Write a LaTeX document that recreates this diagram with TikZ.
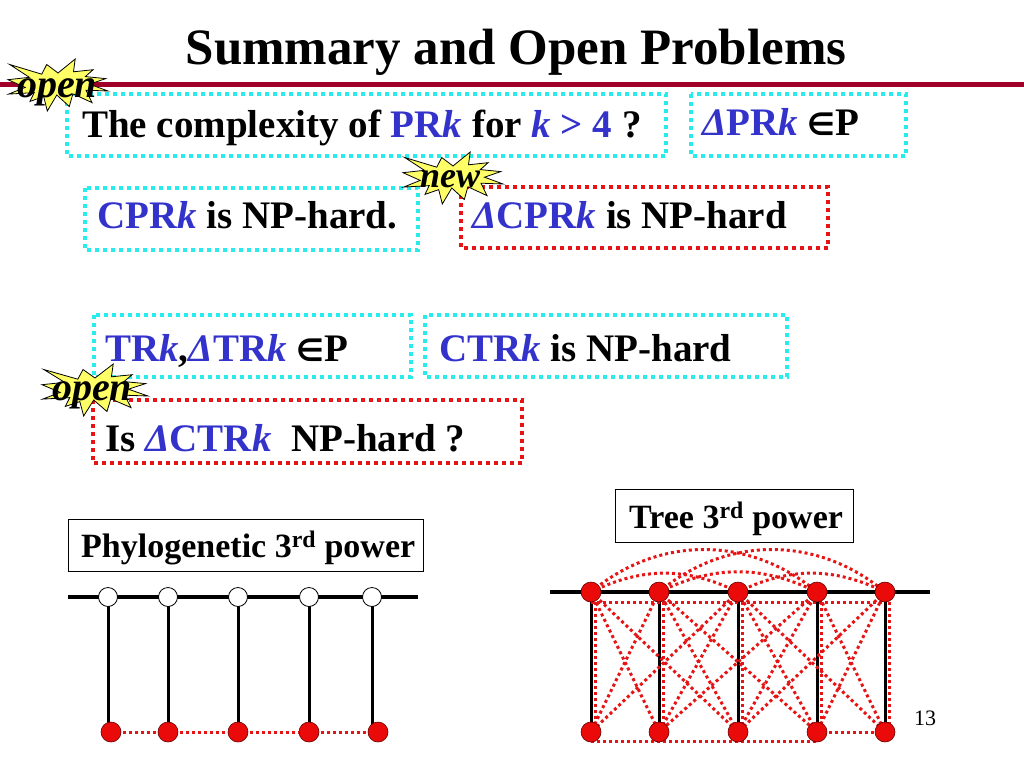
\documentclass[tikz,border=0pt]{standalone}
\usepackage{fontspec}
\setmainfont{Liberation Serif}
\newfontfamily\symfont{DejaVu Sans}
\usetikzlibrary{backgrounds}

\definecolor{titlered}{RGB}{160,0,40}
\definecolor{boxcyan}{RGB}{40,235,235}
\definecolor{boxred}{RGB}{230,20,20}
\definecolor{probblue}{RGB}{51,51,204}
\definecolor{burstyellow}{RGB}{255,255,102}
\definecolor{vertred}{RGB}{235,10,10}

\newcommand{\pb}[1]{\textcolor{probblue}{#1}}
\newcommand{\dk}{\textit{k}}
\newcommand{\dD}{\textit{Δ}}
\newcommand{\elem}{{\symfont\fontsize{31}{34}\selectfont\bfseries ∈}}

\tikzset{
	cbox/.style={draw=boxcyan,line width=4pt,dash pattern=on 4pt off 4pt},
	rbox/.style={draw=boxred,line width=4pt,dash pattern=on 4pt off 4pt},
	lbox/.style={draw=black,line width=1pt},
	stmt/.style={font=\fontsize{39}{44}\selectfont\bfseries,inner sep=0pt,anchor=base west},
	capt/.style={font=\fontsize{34}{38}\selectfont\bfseries,inner sep=0pt,anchor=base west},
	tag/.style={font=\fontsize{40}{44}\selectfont\bfseries\itshape,inner sep=0pt,anchor=base},
	wvert/.style={circle,draw=black,line width=0.8pt,fill=white,minimum size=19pt,inner sep=0pt},
	rvert/.style={circle,draw=black!60!red,line width=0.6pt,fill=vertred,minimum size=20pt,inner sep=0pt},
	spine/.style={line width=3.5pt,black},
	redot/.style={draw=boxred,line width=3pt,dash pattern=on 3pt off 3pt},
	burst/.pic={
		\draw[fill=burstyellow,line width=0.8pt]
			(0,-12) -- (17.2,-26) -- (15.5,-13.2) -- (35.1,-15.3) -- (27.3,-8.4) -- (47.7,-6.4)
			-- (31.5,-0.8) -- (50,6) -- (28,5.2) -- (34,17.6) -- (14.9,8.8) -- (11.3,21.5)
			-- (-1.2,10) -- (-10.7,26) -- (-14.3,11.6) -- (-28,16.4) -- (-23.8,7.6) -- (-49.4,9.1)
			-- (-32.8,2.4) -- (-50,-5.3) -- (-28.6,-7.7) -- (-48.3,-20.5) -- (-16.2,-10.8) -- (-11.3,-20.5) -- cycle;
	}
}

\begin{document}
\begin{tikzpicture}[x=1pt,y=-1pt]
				%\draw[help lines] (0,0) grid (1024,768);
				\useasboundingbox (0,0) rectangle (1024,768);
				
				\node[font=\fontsize{51}{56}\selectfont\bfseries,inner sep=0pt,anchor=base] (title) at (516,64) {Summary and Open Problems};
				\draw[titlered,line width=5pt] (0,84.5) -- (1024,84.5);
				
				\draw[cbox] (67,94) rectangle (666,156);
				\draw[cbox] (691,94) rectangle (906,156);
				\draw[cbox] (85,188) rectangle (418,250);
				\draw[rbox] (461,187) rectangle (828,248);
				\draw[cbox] (94,315) rectangle (411,377);
				\draw[cbox] (425,315) rectangle (787,377);
				\draw[rbox] (93,400) rectangle (522,463);
				
				\node[stmt] (cplx) at (82,137) {The complexity of \pb{PR\dk} for \pb{\dk{} > 4} ?};
				\node[stmt] (dpr) at (702,135) {\pb{\dD PR\dk} \elem P};
				\node[stmt] (cpr) at (97,228) {\pb{CPR\dk} is NP-hard.};
				\node[stmt] (dcpr) at (472,228) {\pb{\dD CPR\dk} is NP-hard};
				\node[stmt] (tr) at (105,361) {\pb{TR\dk},\pb{\dD TR\dk} \elem P};
				\node[stmt] (ctr) at (439,361) {\pb{CTR\dk} is NP-hard};
				\node[stmt] (dctr) at (105,451) {Is \pb{\dD CTR\dk}\ \ NP-hard ?};
				
				\pic at (58,85) {burst};
				\node[tag] (open1) at (57,97) {open};
				\pic at (453,178) {burst};
				\node[tag,font=\fontsize{36}{40}\selectfont\bfseries\itshape] (new) at (450,187) {new};
				\pic[xscale=1.06] at (95,390) {burst};
				\node[tag] (open2) at (92,400) {open};
				
				\draw[lbox] (68,519) rectangle (423,571);
				\node[capt] (phylo) at (81,557) {Phylogenetic 3\textsuperscript{rd} power};
				\draw[lbox] (615,489) rectangle (853,542);
				\node[capt] (tree) at (629,528) {Tree 3\textsuperscript{rd} power};
				
				\coordinate (pl) at (68,597);
				\coordinate (pr) at (418,597);
				\foreach \i/\tx/\bx in {1/108/111,2/168/168,3/238/238,4/309/309,5/372/378}{
					\node[wvert] (p\i) at (\tx,597) {};
					\node[rvert] (q\i) at (\bx,732) {};
				}
				\begin{pgfonlayer}{background}
					\draw[spine] (pl) -- (pr);
					\foreach \i in {1,...,5}{\draw[spine,line width=3pt] (p\i.center) -- (p\i.center |- q\i.center);}
					\foreach \i/\j in {1/2,2/3,3/4,4/5}{\draw[redot] (q\i.center) -- (q\j.center);}
				\end{pgfonlayer}
				
				\coordinate (tl) at (550,592);
				\coordinate (tr) at (930,592);
				\foreach \i/\x in {1/591,2/659,3/738,4/817,5/885}{
					\node[rvert] (t\i) at (\x,592) {};
					\node[rvert] (b\i) at (\x,732) {};
				}
				\begin{pgfonlayer}{background}
					\draw[spine] (tl) -- (tr);
					\foreach \i in {1,...,5}{\draw[spine,line width=3pt] (t\i.center) -- (b\i.center);}
					\draw[redot] ([yshift=-10pt]t1.center) -- ([yshift=-10pt]t5.center);
					\foreach \i in {1,...,5}{\draw[redot] ([xshift=4pt,yshift=-10pt]t\i.center) -- ([xshift=4pt]b\i.center);}
					\foreach \i/\j in {1/2,1/3,2/1,2/3,2/4,3/1,3/2,3/4,3/5,4/2,4/3,4/5,5/3,5/4}{\draw[redot] (t\i.center) -- (b\j.center);}
					\foreach \i/\j in {1/3,2/4,3/5}{\draw[redot] (t\i.center) to[bend left=26] (t\j.center);}
					\foreach \i/\j in {1/4,2/5}{\draw[redot] (t\i.center) to[bend left=40] (t\j.center);}
					\draw[redot] ([yshift=-9pt]b1.center) -- ([yshift=-9pt]b4.center);
					\draw[redot] (b4.center) -- (b5.center);
				\end{pgfonlayer}
				
				\node[font=\fontsize{22}{24}\selectfont,inner sep=0pt,anchor=base west] (pgno) at (914,725) {13};
			\end{tikzpicture}
\end{document}
